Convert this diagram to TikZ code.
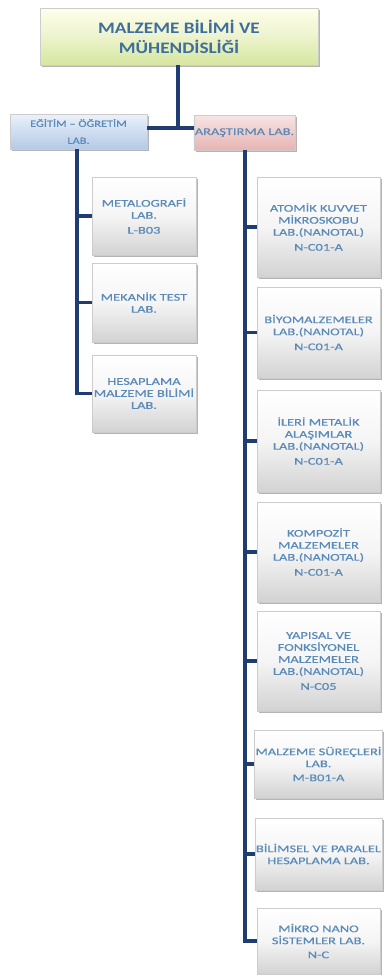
\documentclass[tikz,border=0pt]{standalone}
\usepackage{fontspec}
\setmainfont{Carlito}
\newfontfamily\labfont{Carlito}[FakeStretch=1.4,FakeBold=0.6]
\newfontfamily\edufont{Carlito}[FakeStretch=1.3,FakeBold=0.6]
\newfontfamily\topfont{Carlito}[FakeStretch=1.2]
\usetikzlibrary{shadows}
\definecolor{navy}{HTML}{1F3D73}
\definecolor{txtblue}{HTML}{5A8AB8}
\definecolor{topblue}{HTML}{3F6E9C}
\begin{document}
\begin{tikzpicture}[x=1pt,y=-1pt,
  box/.style={rectangle, draw=gray!40, line width=0.4pt, align=center, inner sep=1pt,
    drop shadow={shadow xshift=1.8pt, shadow yshift=-1.8pt, opacity=0.45, fill=gray!70!black}},
  topbox/.style={box, top color=yellow!8!white, bottom color={rgb,255:red,214;green,230;blue,160},
    middle color={rgb,255:red,236;green,243;blue,205},
    text=topblue, font=\topfont\fontsize{16}{20}\selectfont\bfseries},
  edubox/.style={box, top color={rgb,255:red,235;green,241;blue,250}, bottom color={rgb,255:red,180;green,202;blue,230},
    text=txtblue, font=\edufont\fontsize{9.5}{17}\selectfont},
  resbox/.style={box, top color={rgb,255:red,248;green,228;blue,228}, bottom color={rgb,255:red,230;green,180;blue,178},
    text=txtblue, font=\labfont\fontsize{10.3}{11}\selectfont},
  labbox/.style={box, top color=white, bottom color=gray!35, middle color=gray!8,
    text=txtblue, font=\labfont\fontsize{10.3}{12}\selectfont},
  link/.style={draw=navy, line width=3.5pt},
]
\useasboundingbox (0,0) rectangle (384,975);
\fill[white] (0,0) rectangle (384,975);

\node[topbox, minimum width=278pt, minimum height=57pt] (top) at (179,36.5) {MALZEME BİLİMİ VE\\MÜHENDİSLİĞİ};
\node[edubox, minimum width=137pt, minimum height=35pt] (edu) at (78.5,131.5) {EĞİTİM – ÖĞRETİM\\LAB.};
\node[resbox, minimum width=95pt, minimum height=35pt] (res) at (244.5,132.5) {ARAŞTIRMA LAB.};

\node[labbox, minimum width=104pt, minimum height=78pt] (metal) at (144,216) {METALOGRAFİ\\LAB.\\[3pt]L-B03};
\node[labbox, minimum width=104pt, minimum height=79pt] (mekanik) at (144,302.5) {MEKANİK TEST\\LAB.};
\node[labbox, minimum width=104pt, minimum height=77pt] (hesap) at (144,393.5) {HESAPLAMA\\MALZEME BİLİMİ\\LAB.};

\node[labbox, minimum width=123pt, minimum height=100pt] (atomik) at (318.5,227) {ATOMİK KUVVET\\MİKROSKOBU\\LAB.(NANOTAL)\\[3pt]N-C01-A};
\node[labbox, minimum width=123pt, minimum height=91pt] (biyo) at (318.5,332.5) {BİYOMALZEMELER\\LAB.(NANOTAL)\\[3pt]N-C01-A};
\node[labbox, minimum width=123pt, minimum height=102pt] (ileri) at (318.5,441) {İLERİ METALİK\\ALAŞIMLAR\\LAB.(NANOTAL)\\[3pt]N-C01-A};
\node[labbox, minimum width=123pt, minimum height=100pt] (kompozit) at (318.5,552) {KOMPOZİT\\MALZEMELER\\LAB.(NANOTAL)\\[3pt]N-C01-A};
\node[labbox, minimum width=123pt, minimum height=100pt] (yapisal) at (318.5,661) {YAPISAL VE\\FONKSİYONEL\\MALZEMELER\\LAB.(NANOTAL)\\[3pt]N-C05};
\node[labbox, minimum width=123pt, minimum height=68pt] (surec) at (318.5,764) {MALZEME SÜREÇLERİ\\LAB.\\[2pt]M-B01-A};
\node[labbox, minimum width=123pt, minimum height=72pt] (bilimsel) at (318.5,854) {BİLİMSEL VE PARALEL\\HESAPLAMA LAB.};
\node[labbox, minimum width=123pt, minimum height=66pt] (mikro) at (318.5,941) {MİKRO NANO\\SİSTEMLER LAB.\\[2pt]N-C};

\coordinate (j) at (178,128);
\coordinate (lt) at (77,0);
\coordinate (rt) at (245,0);

\path[link] (top.south -| j) -- (j);
\path[link] (edu.east |- j) -- (res.west |- j);
\path[link] (lt |- edu.south) |- (hesap.west);
\path[link] (lt |- metal.west) -- (metal.west);
\path[link] (lt |- mekanik.west) -- (mekanik.west);
\path[link] (rt |- res.south) |- (mikro.west);
\foreach \n in {atomik,biyo,ileri,kompozit,yapisal,surec,bilimsel}
  \path[link] (rt |- \n.west) -- (\n.west);
\end{tikzpicture}
\end{document}
